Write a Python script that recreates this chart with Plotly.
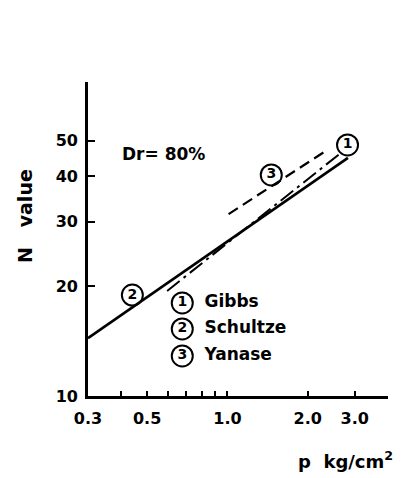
import plotly.graph_objects as go

# Data (log-log)
schultze_p = [0.3, 2.83]
schultze_n = [14.4, 44.9]
gibbs_p = [0.594, 2.66]
gibbs_n = [19.4, 46.3]
yanase_p = [1.01, 2.37]
yanase_n = [31.5, 47.2]

# Circled labels on the chart
label_p = [2.82, 1.46, 0.44]
label_n = [48.7, 40.3, 18.9]
label_txt = ["1", "3", "2"]

# Legend entries
leg_names = ["Gibbs", "Schultze", "Yanase"]
leg_nums = ["1", "2", "3"]
leg_p = [0.677, 0.677, 0.677]
leg_text_p = [0.82, 0.82, 0.82]
leg_n = [17.98, 15.26, 12.87]

x_ticks = [0.3, 0.4, 0.5, 0.6, 0.7, 0.8, 0.9, 1.0, 2.0, 3.0]
x_ticktext = ["0.3", "", "0.5", "", "", "", "", "1.0", "2.0", "3.0"]
y_ticks = [10, 20, 30, 40, 50]
y_ticktext = ["10", "20", "30", "40", "50"]

FONT = "DejaVu Sans"
fig = go.Figure()
fig.add_trace(go.Scatter(x=schultze_p, y=schultze_n, mode="lines",
                         line=dict(color="black", width=2.6)))
fig.add_trace(go.Scatter(x=gibbs_p, y=gibbs_n, mode="lines",
                         line=dict(color="black", width=2, dash="16px,5px,3px,5px")))
fig.add_trace(go.Scatter(x=yanase_p, y=yanase_n, mode="lines",
                         line=dict(color="black", width=2.2, dash="11px,6px")))

fig.add_trace(go.Scatter(x=label_p, y=label_n, mode="markers+text", text=label_txt,
                         textposition="middle center",
                         textfont=dict(family=FONT, size=14, color="black", weight="bold"),
                         marker=dict(symbol="circle-open", size=21, color="black",
                                     line=dict(width=2, color="black"))))
fig.add_trace(go.Scatter(x=leg_p, y=leg_n, mode="markers+text", text=leg_nums,
                         textposition="middle center",
                         textfont=dict(family=FONT, size=14, color="black", weight="bold"),
                         marker=dict(symbol="circle-open", size=21, color="black",
                                     line=dict(width=2, color="black"))))
fig.add_trace(go.Scatter(x=leg_text_p, y=leg_n, mode="text",
                         text=leg_names, textposition="middle right",
                         textfont=dict(family=FONT, size=17, color="black", weight="bold")))

fig.add_annotation(x=-0.21, y=0.573, xref="paper", yref="paper", text="N   value",
                   showarrow=False, textangle=-90, xanchor="center", yanchor="middle",
                   font=dict(family=FONT, size=19, color="black", weight="bold"))
fig.add_annotation(x=0.857, y=-0.204, xref="paper", yref="paper", text="p  kg/cm<sup>2</sup>",
                   showarrow=False, xanchor="center", yanchor="middle",
                   font=dict(family=FONT, size=18, color="black", weight="bold"))
fig.add_annotation(x=0.105, y=0.771, xref="paper", yref="paper", text="Dr= 80%",
                   showarrow=False, xanchor="left", yanchor="middle",
                   font=dict(family=FONT, size=17, color="black", weight="bold"))

fig.update_layout(
    width=405, height=478, showlegend=False,
    margin=dict(l=88, r=17, t=82, b=82),
    plot_bgcolor="white", paper_bgcolor="white",
    font=dict(family=FONT, color="black"),
)
fig.update_xaxes(type="log", range=[0.30103 - 0.8239, 0.602], showgrid=False, zeroline=False,
                 showline=True, linecolor="black", linewidth=2.6,
                 tickvals=x_ticks, ticktext=x_ticktext, ticks="inside", ticklen=5,
                 tickwidth=2, tickcolor="black", ticklabelstandoff=6,
                 tickfont=dict(family=FONT, size=16, color="black", weight="bold"))
fig.update_yaxes(type="log", range=[1, 1.860], showgrid=False, zeroline=False,
                 showline=True, linecolor="black", linewidth=2.6,
                 tickvals=y_ticks, ticktext=y_ticktext, ticks="inside", ticklen=7,
                 tickwidth=2, tickcolor="black", ticklabelstandoff=4,
                 tickfont=dict(family=FONT, size=16, color="black", weight="bold"))
fig.write_html("out.html")
